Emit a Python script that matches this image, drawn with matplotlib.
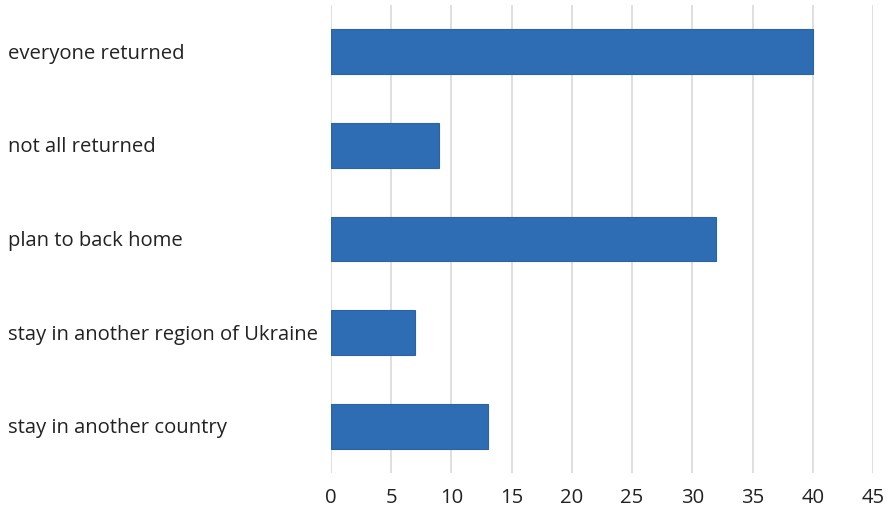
import matplotlib.pyplot as plt
from matplotlib.transforms import blended_transform_factory, offset_copy

# data
categories = ['everyone returned', 'not all returned', 'plan to back home',
              'stay in another region of Ukraine', 'stay in another country']
values = [40, 9, 32, 7, 13]

plt.rcParams['font.family'] = ['Open Sans', 'DejaVu Sans']
plt.rcParams['font.size'] = 14.6

fig = plt.figure(figsize=(8.9, 5.14), dpi=100)
ax = fig.add_axes([331 / 890, 1 - 473 / 514, (873 - 331) / 890, (473 - 5) / 514])

y = list(range(len(categories)))
ax.barh(y, values, height=0.48, color='#2E6DB4', edgecolor='#2A64A6', linewidth=0.8, zorder=3)

ax.set_xlim(0, 45)
ax.set_ylim(len(categories) - 0.5, -0.5)
ax.set_xticks(range(0, 46, 5))
ax.set_yticks([])
ax.grid(axis='x', color='#D9D9D9', linewidth=1.2, zorder=0)
for s in ax.spines.values():
    s.set_visible(False)
ax.tick_params(axis='x', length=0, pad=11, labelsize=14.6, colors='#222222')

# left aligned category labels
trans = blended_transform_factory(fig.transFigure, ax.transData)
trans = offset_copy(trans, fig=fig, y=-2, units='dots')
for yi, lab in zip(y, categories):
    ax.text(8 / 890, yi, lab, transform=trans, ha='left', va='center',
            fontsize=14.6, color='#222222')

fig.savefig('out.png', dpi=100)
